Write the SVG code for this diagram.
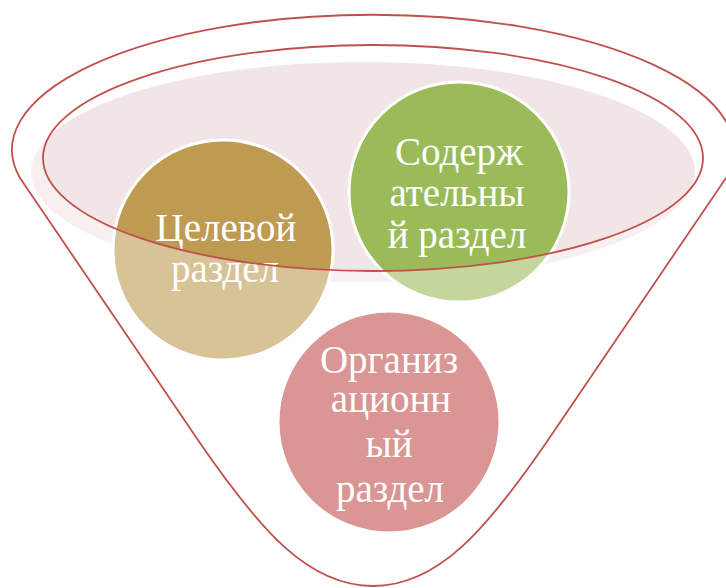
<svg xmlns="http://www.w3.org/2000/svg" width="726" height="588" viewBox="0 0 726 588">
<style>
.ring{stroke:#ffffff;stroke-width:3}
.lbl{font-family:"Liberation Serif","Times New Roman",serif;font-size:39px;fill:#ffffff;text-anchor:middle}
.edge{fill:none;stroke:#c0504d;stroke-width:1.8}
</style>
<rect width="726" height="588" fill="#ffffff"/>
<ellipse id="rim-fill" cx="363" cy="172" rx="332" ry="110" fill="#f2e5e6"/>
<g id="node-target">
<circle class="ring" cx="223" cy="250" r="110" fill="#bf9b52"/>
<text class="lbl" x="226" y="241">Целевой</text>
<text class="lbl" x="225" y="282">раздел</text>
</g>
<g id="node-content">
<circle class="ring" cx="459" cy="192" r="110" fill="#9bbb59"/>
<text class="lbl" x="459" y="165">Содерж</text>
<text class="lbl" x="457" y="206">ательны</text>
<text class="lbl" x="457" y="248">й раздел</text>
</g>
<g id="node-org">
<circle class="ring" cx="389" cy="422" r="111" fill="#c0504d"/>
<text class="lbl" x="389" y="373">Организ</text>
<text class="lbl" x="391" y="412">ационн</text>
<text class="lbl" x="389" y="457">ый</text>
<text class="lbl" x="390" y="502">раздел</text>
</g>
<g id="funnel">
<path d="M20,178 A361,135 0 1 1 726,178 L546,443 C486,530 438,586 373,586 C308,586 260,530 200,443 Z M43,158 A330,113 0 1 0 703,158 A330,113 0 1 0 43,158 Z" fill="#ffffff" fill-opacity="0.4" fill-rule="evenodd"/>
<path class="edge" d="M20,178 A361,135 0 1 1 726,178 L546,443 C486,530 438,586 373,586 C308,586 260,530 200,443 Z"/>
<ellipse class="edge" cx="373" cy="158" rx="330" ry="113"/>
</g>
</svg>
